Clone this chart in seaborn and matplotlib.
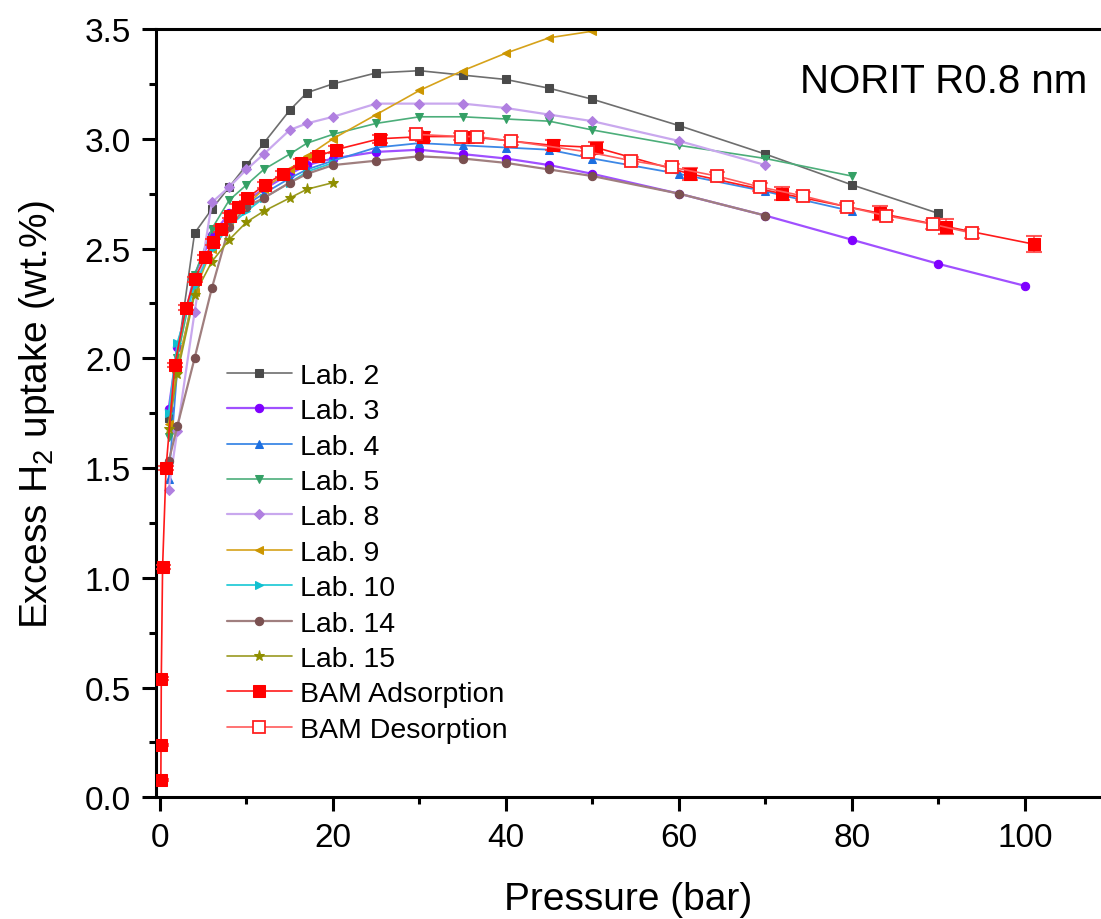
import numpy as np
import pandas as pd
import matplotlib
matplotlib.use("Agg")
import matplotlib.pyplot as plt
import seaborn as sns

# pressure (bar) and excess H2 uptake (wt.%)
p_lab2 = [1, 4, 6, 8, 10, 12, 15, 17, 20, 25, 30, 35, 40, 45, 50, 60, 70, 80, 90]
u_lab2 = [1.73, 2.57, 2.68, 2.78, 2.88, 2.98, 3.13, 3.21, 3.25, 3.30, 3.31, 3.29, 3.27, 3.23, 3.18, 3.06, 2.93, 2.79, 2.66]

p_lab3 = [1, 2, 4, 6, 8, 10, 12, 15, 17, 20, 25, 30, 35, 40, 45, 50, 60, 70, 80, 90, 100]
u_lab3 = [1.77, 2.05, 2.38, 2.56, 2.66, 2.72, 2.77, 2.84, 2.88, 2.91, 2.94, 2.95, 2.93, 2.91, 2.88, 2.84, 2.75, 2.65, 2.54, 2.43, 2.33]

p_lab4 = [1, 2, 4, 6, 8, 10, 12, 15, 17, 20, 25, 30, 35, 40, 45, 50, 60, 70, 80]
u_lab4 = [1.45, 1.95, 2.31, 2.52, 2.63, 2.70, 2.75, 2.82, 2.86, 2.90, 2.96, 2.98, 2.97, 2.96, 2.95, 2.91, 2.84, 2.76, 2.67]

p_lab5 = [1, 2, 4, 6, 8, 10, 12, 15, 17, 20, 25, 30, 35, 40, 45, 50, 60, 70, 80]
u_lab5 = [1.64, 2.00, 2.38, 2.59, 2.72, 2.79, 2.86, 2.93, 2.98, 3.02, 3.07, 3.10, 3.10, 3.09, 3.08, 3.04, 2.97, 2.91, 2.83]

p_lab8 = [1, 2, 4, 6, 8, 10, 12, 15, 17, 20, 25, 30, 35, 40, 45, 50, 60, 70]
u_lab8 = [1.40, 1.67, 2.21, 2.71, 2.78, 2.86, 2.93, 3.04, 3.07, 3.10, 3.16, 3.16, 3.16, 3.14, 3.11, 3.08, 2.99, 2.88]

p_lab9 = [1, 2, 4, 6, 8, 10, 12, 15, 17, 20, 25, 30, 35, 40, 45, 50]
u_lab9 = [1.70, 1.96, 2.30, 2.50, 2.62, 2.70, 2.77, 2.86, 2.92, 3.00, 3.11, 3.22, 3.31, 3.39, 3.46, 3.49]

p_lab10 = [1, 2, 4, 6, 8, 10, 12, 15, 17, 20]
u_lab10 = [1.75, 2.07, 2.33, 2.50, 2.60, 2.67, 2.73, 2.80, 2.85, 2.89]

p_lab14 = [1, 2, 4, 6, 8, 10, 12, 15, 17, 20, 25, 30, 35, 40, 45, 50, 60, 70]
u_lab14 = [1.53, 1.69, 2.00, 2.32, 2.60, 2.69, 2.73, 2.80, 2.84, 2.88, 2.90, 2.92, 2.91, 2.89, 2.86, 2.83, 2.75, 2.65]

p_lab15 = [1, 2, 4, 6, 8, 10, 12, 15, 17, 20]
u_lab15 = [1.68, 1.93, 2.29, 2.44, 2.54, 2.62, 2.67, 2.73, 2.77, 2.80]

p_ads = [0.1, 0.12, 0.15, 0.3, 0.7, 1.7, 3.0, 4.0, 5.2, 6.1, 7.1, 8.1, 9.0, 10.1, 12.1, 14.2, 16.3, 18.3,
         20.3, 25.4, 30.4, 35.6, 45.4, 50.4, 61.3, 71.9, 83.3, 90.9, 101.0]
u_ads = [0.08, 0.24, 0.54, 1.05, 1.50, 1.97, 2.23, 2.36, 2.46, 2.53, 2.59, 2.65, 2.69, 2.73, 2.79, 2.84, 2.89, 2.92,
         2.95, 3.00, 3.01, 3.01, 2.97, 2.96, 2.84, 2.75, 2.66, 2.60, 2.52]
e_ads = [0.005, 0.005, 0.006, 0.008, 0.01, 0.01, 0.012, 0.012, 0.012, 0.013, 0.013, 0.013, 0.014, 0.014, 0.015,
         0.015, 0.016, 0.016, 0.017, 0.018, 0.019, 0.02, 0.023, 0.024, 0.027, 0.029, 0.032, 0.034, 0.036]

p_des = [93.9, 89.4, 83.9, 79.4, 74.3, 69.4, 64.4, 59.2, 54.5, 49.5, 40.6, 36.6, 34.8, 29.6]
u_des = [2.57, 2.61, 2.65, 2.69, 2.74, 2.78, 2.83, 2.87, 2.90, 2.94, 2.99, 3.01, 3.01, 3.02]
e_des = [0.02, 0.02, 0.02, 0.019, 0.018, 0.018, 0.017, 0.017, 0.016, 0.016, 0.02, 0.015, 0.015, 0.015]

labs = [
    ("Lab. 2", p_lab2, u_lab2, "s", "#4a4a4a", "#6e6e6e", 1.2),
    ("Lab. 3", p_lab3, u_lab3, "o", "#7f00ff", "#a050ff", 1.6),
    ("Lab. 4", p_lab4, u_lab4, "^", "#1c6fe0", "#3d88e6", 1.3),
    ("Lab. 5", p_lab5, u_lab5, "v", "#34a065", "#4cae7a", 1.2),
    ("Lab. 8", p_lab8, u_lab8, "D", "#b07fe0", "#c9a8ee", 1.6),
    ("Lab. 9", p_lab9, u_lab9, "<", "#cc9600", "#d6a21a", 1.2),
    ("Lab. 10", p_lab10, u_lab10, ">", "#10c0d0", "#28cbd8", 1.3),
    ("Lab. 14", p_lab14, u_lab14, "o", "#7a5050", "#a07f7f", 1.6),
    ("Lab. 15", p_lab15, u_lab15, "*", "#8f8f00", "#9a9a20", 1.2),
]

sns.set_theme(style="ticks")
plt.rcParams["font.family"] = ["Liberation Sans", "DejaVu Sans"]
plt.rcParams["mathtext.fontset"] = "custom"
plt.rcParams["mathtext.rm"] = "Liberation Sans"
plt.rcParams["mathtext.it"] = "Liberation Sans:italic"
plt.rcParams["mathtext.default"] = "regular"
plt.rcParams["text.color"] = "black"
plt.rcParams["axes.labelcolor"] = "black"

fig = plt.figure(figsize=(11.01, 9.2), dpi=100)
ax = fig.add_axes([0.1417, 0.1323, 0.8583, 0.8351])

for name, p, u, mk, mc, lc, lw in labs:
    ms = 8 if mk == "*" else 6
    if mk == "D":
        ms = 5.5
    sns.lineplot(x=p, y=u, ax=ax, label=name, color=lc, linewidth=lw,
                 marker=mk, markersize=ms, markerfacecolor=mc, markeredgecolor=mc,
                 estimator=None, sort=False)

ads = pd.DataFrame({"p": p_ads, "u": u_ads, "e": e_ads})
des = pd.DataFrame({"p": p_des, "u": u_des, "e": e_des})

ax.errorbar(ads["p"], ads["u"], yerr=ads["e"], fmt="none", ecolor="#ff3030",
            elinewidth=1.2, capsize=6, capthick=1.5, alpha=0.8, zorder=4)
ax.errorbar(des["p"], des["u"], yerr=des["e"], fmt="none", ecolor="#ff5050",
            elinewidth=1.2, capsize=6, capthick=1.5, alpha=0.7, zorder=4)
sns.lineplot(data=ads, x="p", y="u", ax=ax, label="BAM Adsorption", color="#ff1a1a",
             linewidth=1.2, marker="s", markersize=9, markerfacecolor="#ff0000",
             markeredgecolor="#ff0000", estimator=None, sort=False, zorder=5)
sns.lineplot(data=des, x="p", y="u", ax=ax, label="BAM Desorption", color="#ff5a5a",
             linewidth=1.2, marker="s", markersize=9, markerfacecolor="white",
             markeredgecolor="#ff2020", markeredgewidth=1.3, estimator=None, sort=False, zorder=5)

ax.set_xlim(-0.46, 108.8)
ax.set_ylim(0, 3.5)
ax.set_xticks(np.arange(0, 101, 20))
ax.set_xticks(np.arange(10, 101, 20), minor=True)
ax.set_yticks(np.arange(0, 3.51, 0.5))
ax.set_yticks(np.arange(0.25, 3.5, 0.5), minor=True)
ax.yaxis.set_major_formatter(matplotlib.ticker.FormatStrFormatter("%.1f"))

for side in ["left", "bottom", "top"]:
    ax.spines[side].set_linewidth(2.2)
    ax.spines[side].set_color("black")
ax.spines["right"].set_visible(False)

ax.tick_params(axis="both", which="major", direction="out", length=10, width=2.2,
               labelsize=24, colors="black", pad=8)
ax.tick_params(axis="both", which="minor", direction="out", length=5, width=2.2, colors="black")
ax.tick_params(top=False, right=False)

ax.set_xlabel("Pressure (bar)", fontsize=28, labelpad=20)
ax.set_ylabel("Excess H$_2$ uptake (wt.%)", fontsize=28, labelpad=20)

ax.text(0.985, 0.932, "NORIT R0.8 nm", transform=ax.transAxes, fontsize=29,
        ha="right", va="center")

leg = ax.legend(loc="upper left", bbox_to_anchor=(0.075, 0.5655), frameon=False,
                fontsize=20.5, handlelength=2.28, handletextpad=0.3, labelspacing=0.33,
                borderpad=0, borderaxespad=0)
for t in leg.get_texts():
    t.set_color("black")

fig.savefig("out.png", dpi=100)
